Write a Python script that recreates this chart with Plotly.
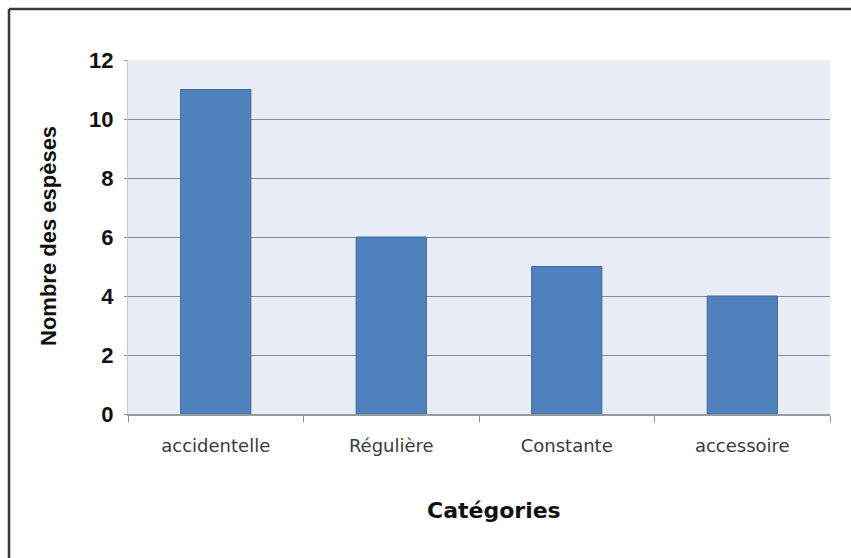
import plotly.graph_objects as go

# Species counts per occurrence category
categories = ["accidentelle", "Régulière", "Constante", "accessoire"]
species_counts = [11, 6, 5, 4]
y_ticks = [0, 2, 4, 6, 8, 10, 12]

W, H = 851, 558
L, R, T, B = 128, 21, 60, 144
pw, ph = W - L - R, H - T - B


def px_x(x):
    return (x - L) / pw


def px_y(y):
    return (H - B - y) / ph


fig = go.Figure(
    go.Bar(
        x=categories,
        y=species_counts,
        width=0.4,
        marker=dict(color="#4f81bd", line=dict(color="#3d6a9c", width=1)),
    )
)

frame = dict(color="#3a3a3a", width=2.5)

fig.update_layout(
    width=W,
    height=H,
    margin=dict(l=L, r=R, t=T, b=B),
    paper_bgcolor="white",
    plot_bgcolor="#e8ecf4",
    showlegend=False,
    xaxis=dict(
        tickson="boundaries",
        ticks="outside",
        ticklen=6,
        tickcolor="#8a8a8a",
        showline=True,
        linecolor="#9a9a9a",
        linewidth=1.5,
        showgrid=False,
        ticklabelstandoff=15,
        tickfont=dict(family="DejaVu Sans, sans-serif", size=18, color="#3a3a3a"),
    ),
    yaxis=dict(
        range=[0, 12],
        tickvals=y_ticks,
        ticks="outside",
        ticklen=3,
        tickcolor="#8a8a8a",
        showgrid=True,
        gridcolor="#8c8c8c",
        gridwidth=1,
        zeroline=False,
        showline=True,
        linecolor="#c8c8c8",
        linewidth=1,
        ticklabelstandoff=6,
        tickfont=dict(family="Liberation Sans, Arial, sans-serif", size=22, color="#111111", weight="bold"),
    ),
    annotations=[
        dict(
            text="Catégories",
            x=px_x(494), y=px_y(510), xref="paper", yref="paper",
            showarrow=False, xanchor="center", yanchor="middle",
            font=dict(family="DejaVu Sans, sans-serif", size=22, color="#111111", weight="bold"),
        ),
        dict(
            text="Nombre des espèses",
            x=px_x(48), y=px_y(236), xref="paper", yref="paper",
            showarrow=False, xanchor="center", yanchor="middle", textangle=-90,
            font=dict(family="Liberation Sans Narrow, Liberation Sans, Arial, sans-serif", size=22, color="#111111", weight="bold"),
        ),
    ],
    shapes=[
        # frame edges along the top and left of the figure
        dict(type="line", xref="paper", yref="paper",
             x0=px_x(9), x1=px_x(851), y0=px_y(9), y1=px_y(9), line=frame),
        dict(type="line", xref="paper", yref="paper",
             x0=px_x(9), x1=px_x(9), y0=px_y(558), y1=px_y(9), line=frame),
    ],
)

fig.write_html("out.html")
